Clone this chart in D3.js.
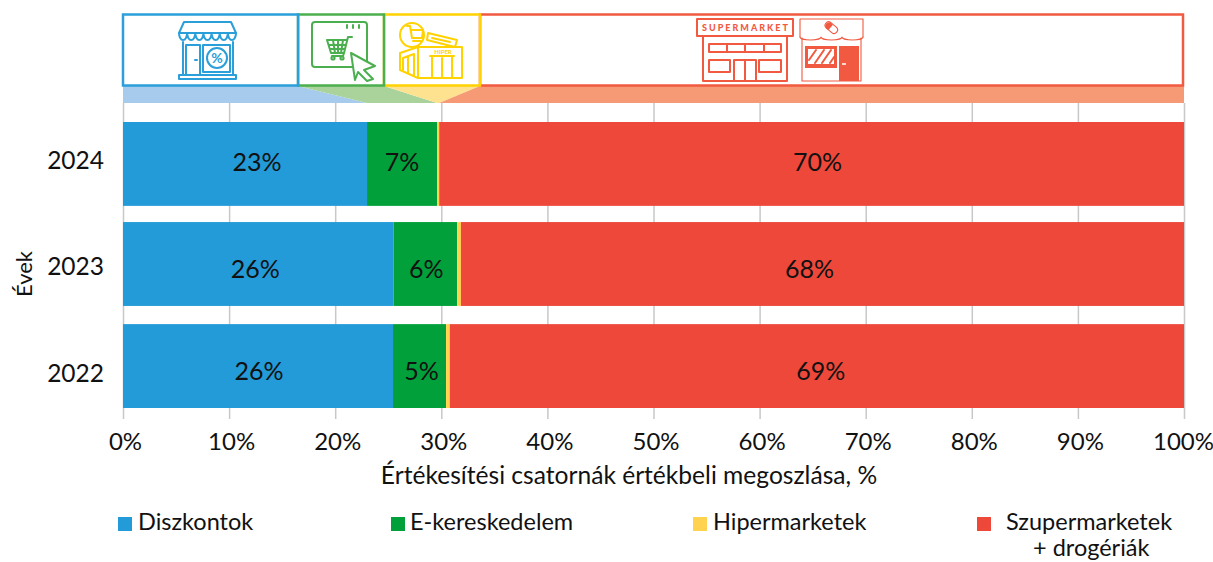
<!DOCTYPE html>
<html>
<head>
<meta charset="utf-8">
<script src="https://cdn.jsdelivr.net/npm/d3@7"></script>
<style>
  html, body { margin: 0; padding: 0; background: #fff; }
  svg { display: block; }
  text { font-family: Lato, "Open Sans", sans-serif; fill: #111; }
</style>
</head>
<body>
<svg id="chart" width="1213" height="562"></svg>
<script>
const years = ["2024", "2023", "2022"];
const channels = ["Diszkontok", "E-kereskedelem", "Hipermarketek", "Szupermarketek"];
const diszkontok = [23.0, 25.5, 25.45];
const ekereskedelem = [6.6, 6.0, 5.0];
const hipermarketek = [0.2, 0.35, 0.35];
const szupermarketek = [70.2, 68.15, 69.2];
const shownLabels = [
  ["23%", "26%", "26%"],
  ["7%", "6%", "5%"],
  [null, null, null],
  ["70%", "68%", "69%"]
];
const xTicks = [0, 10, 20, 30, 40, 50, 60, 70, 80, 90, 100];
const headerEdges = [0, 16.5, 24.6, 33.65, 100];

const colors = ["#239bd8", "#02a03b", "#ffd34f", "#ee483b"];
const boxColors = ["#2a9fd9", "#4caf4f", "#ffd200", "#f15a40"];
const funnelColors = ["#a7cbec", "#a9d39b", "#ffe28f", "#f69a75"];

// px nudges for the labels, the source has them placed by hand
const labelNudge = [[12, -3, 1], [0, 1, 2], [0, 0, 0], [6, -13, 4]];
const labelDrop = [-2, 4, 5];
const yearNudge = [-4, 1, 7];
const barNudge = [0, -1, 0];

const svg = d3.select("#chart");
const x = d3.scaleLinear().domain([0, 100]).range([123, 1184]);
const y = d3.scaleBand().domain(years).range([122, 408]).paddingInner(0.17);

const series = [diszkontok, ekereskedelem, hipermarketek, szupermarketek];
const rows = years.map((year, i) => {
  const row = { year };
  channels.forEach((c, j) => { row[c] = series[j][i]; });
  return row;
});
const stacked = d3.stack().keys(channels)(rows);

// axis + gridlines go under the bars
const xAxis = svg.append("g")
  .attr("transform", "translate(0,419)")
  .call(d3.axisBottom(x).tickValues(xTicks).tickSize(-316).tickPadding(0).tickFormat(d => d + "%"));
xAxis.select(".domain").remove();
xAxis.selectAll("line").attr("stroke", "#c8c8c8").attr("stroke-width", 1.5);
xAxis.selectAll("text")
  .attr("y", 23)
  .attr("dy", "0.35em")
  .attr("dx", d => d == 0 ? 2 : d == 100 ? -1 : 2)
  .style("font-size", "24px")
  .style("fill", "#111");

stacked.forEach((layer, j) => {
  svg.append("g").selectAll("rect").data(layer).enter().append("rect")
    .attr("x", d => x(d[0]))
    .attr("y", (d, i) => y(d.data.year) + barNudge[i])
    .attr("width", d => x(d[1]) - x(d[0]))
    .attr("height", y.bandwidth())
    .attr("fill", colors[j]);
  svg.append("g").selectAll("text").data(layer).enter().append("text")
    .filter((d, i) => shownLabels[j][i] !== null)
    .attr("x", d => (x(d[0]) + x(d[1])) / 2 + labelNudge[j][years.indexOf(d.data.year)])
    .attr("y", d => y(d.data.year) + y.bandwidth() / 2 + labelDrop[years.indexOf(d.data.year)])
    .attr("dy", "0.35em")
    .attr("text-anchor", "middle")
    .style("font-size", "25px")
    .text(d => shownLabels[j][years.indexOf(d.data.year)]);
});

const yAxis = svg.append("g")
  .attr("transform", "translate(108,0)")
  .call(d3.axisLeft(y).tickSize(0).tickPadding(4));
yAxis.select(".domain").remove();
yAxis.selectAll("text")
  .attr("transform", (d, i) => `translate(0,${yearNudge[i]})`)
  .attr("dy", "0.35em")
  .style("font-size", "24.5px")
  .style("fill", "#111");

svg.append("text")
  .attr("transform", "translate(32,274) rotate(-90)")
  .attr("text-anchor", "middle")
  .style("font-size", "22px")
  .text("Évek");
svg.append("text")
  .attr("x", 629).attr("y", 484)
  .attr("text-anchor", "middle")
  .style("font-size", "24.6px")
  .text("Értékesítési csatornák értékbeli megoszlása, %");

// funnel from the header boxes down to the 2024 bar
const bottomEdges = [0, 23.0, 29.6, 29.8, 100];
channels.forEach((c, j) => {
  svg.append("path")
    .attr("fill", funnelColors[j])
    .attr("d", d3.line()([
      [x(headerEdges[j]), 86], [x(headerEdges[j + 1]), 86],
      [x(bottomEdges[j + 1]), 103], [x(bottomEdges[j]), 103]
    ]) + "Z");
});

// header boxes
[3, 2, 1, 0].forEach(j => {
  svg.append("rect")
    .attr("x", x(headerEdges[j]))
    .attr("y", 14.5)
    .attr("width", x(headerEdges[j + 1]) - x(headerEdges[j]) - (j == 3 ? 1 : 0))
    .attr("height", 71)
    .attr("fill", "none")
    .attr("stroke", boxColors[j])
    .attr("stroke-width", 2.5);
});

function icon(color, sw) {
  return svg.append("g").attr("fill", "none").attr("stroke", color).attr("stroke-width", sw || 2)
    .attr("stroke-linejoin", "round").attr("stroke-linecap", "round");
}
function scallops(g, x0, x1, yy, n, depth) {
  const w = (x1 - x0) / n;
  let d = `M${x0},${yy}`;
  for (let i = 0; i < n; i++) d += `a${w / 2},${depth} 0 0 0 ${w},0`;
  g.append("path").attr("d", d);
}

// discount shop
const shop = icon(boxColors[0]);
shop.append("path").attr("d", "M184,22H231L236,33H179Z");
scallops(shop, 179, 236, 33, 7, 7);
shop.append("path").attr("d", "M183,42V75M233,42V75");
shop.append("rect").attr("x", 179).attr("y", 75).attr("width", 57).attr("height", 4);
shop.append("rect").attr("x", 186).attr("y", 45).attr("width", 14).attr("height", 30);
shop.append("rect").attr("x", 203).attr("y", 45).attr("width", 27).attr("height", 27);
shop.append("circle").attr("cx", 217).attr("cy", 58).attr("r", 10);
shop.append("path").attr("d", "M195,60h2");
svg.append("text").attr("x", 217).attr("y", 63).attr("text-anchor", "middle")
  .style("font-size", "14px").style("font-weight", "700").style("fill", boxColors[0]).text("%");

// web shop
const web = icon(boxColors[1]);
web.append("rect").attr("x", 312).attr("y", 22).attr("width", 55).attr("height", 45).attr("rx", 3);
web.append("path").attr("d", "M347,25v3M353,25v3M359,25v3");
web.append("path").attr("d", "M352,37H348L344,53H331L327,40H346M329,45H345M330,49H344M333,40L335,53M338,40V53M343,40L341,53M344,53L343,56H332");
web.append("circle").attr("cx", 333).attr("cy", 58).attr("r", 1.6);
web.append("circle").attr("cx", 342).attr("cy", 58).attr("r", 1.6);
web.append("path").attr("fill", "#fff").attr("d", "M351,53L375,66L364,70L373,79L367,81L358,72L355,80Z");

// hypermarket
const hyper = icon(boxColors[2]);
hyper.append("path").attr("d", "M428,33L457,40L455,47L427,40ZM432,38L450,42");
hyper.append("circle").attr("cx", 412).attr("cy", 35).attr("r", 12).attr("fill", "#fff");
hyper.append("path").attr("d", "M407,26H410L412,38H422L423,30H411M413,41H421");
hyper.append("path").attr("d", "M400,53L418,47V78L400,70ZM418,47H462V78H418ZM403,58L414,54V76M403,58V70M408,56V73");
hyper.append("path").attr("d", "M430,56H454M432,56V78M452,56V78M442,58V78");
svg.append("text").attr("x", 443).attr("y", 54).attr("text-anchor", "middle")
  .style("font-size", "6px").style("font-weight", "700").style("fill", boxColors[2]).text("HIPER");

// supermarket
const sm = icon(boxColors[3]);
sm.append("rect").attr("x", 697).attr("y", 19).attr("width", 96).attr("height", 17);
sm.append("rect").attr("x", 703).attr("y", 36).attr("width", 84).attr("height", 45);
sm.append("rect").attr("x", 709).attr("y", 44).attr("width", 72).attr("height", 8);
sm.append("path").attr("d", "M727,44v8M745,44v8M764,44v8");
sm.append("rect").attr("x", 709).attr("y", 60).attr("width", 21).attr("height", 12);
sm.append("rect").attr("x", 759).attr("y", 60).attr("width", 22).attr("height", 12);
sm.append("path").attr("d", "M734,81V60H756V81M745,60V81");
svg.append("text").attr("x", 746).attr("y", 31).attr("text-anchor", "middle")
  .style("font-size", "9px").style("font-weight", "900").style("letter-spacing", "2px")
  .style("fill", boxColors[3]).text("SUPERMARKET");

// drugstore
const drug = icon(boxColors[3], 1.1);
drug.append("path").attr("d", "M800,19H863V37M800,19V37");
scallops(drug, 800, 863, 37, 3, 3);
drug.append("path").attr("d", "M802,38V81H861V38");
svg.append("rect").attr("x", 805).attr("y", 46).attr("width", 32).attr("height", 22).attr("fill", boxColors[3]);
svg.append("rect").attr("x", 808).attr("y", 49).attr("width", 26).attr("height", 15).attr("fill", "#fff");
icon(boxColors[3], 2).append("path").attr("d", "M809,60L816,50M815,63L824,50M822,63L831,50M830,63L834,57");
svg.append("rect").attr("x", 839).attr("y", 46).attr("width", 20).attr("height", 35).attr("fill", boxColors[3]);
svg.append("path").attr("d", "M842,64h4").attr("stroke", "#fff").attr("stroke-width", 1.5);
svg.append("rect").attr("x", 824).attr("y", 24).attr("width", 14).attr("height", 7).attr("rx", 3.5)
  .attr("transform", "rotate(40 831 28)").attr("fill", "#fff").attr("stroke", boxColors[3]).attr("stroke-width", 1.1);
svg.append("path").attr("d", "M826,24a3.5,3.5 0 0 1 5,-1l2,1.7l-4.5,5.4l-2.5,-1.7a3.5,3.5 0 0 1 0,-4.4Z").attr("fill", boxColors[3]);

// legend
const legendX = [118, 391, 693, 977];
const legendTextX = [138, 410, 713, 1006];
channels.forEach((c, j) => {
  svg.append("rect").attr("x", legendX[j]).attr("y", 517).attr("width", 14).attr("height", 14).attr("fill", colors[j]);
  svg.append("text").attr("x", legendTextX[j]).attr("y", 530).style("font-size", "23.5px").text(c);
});
svg.append("text").attr("x", 1033).attr("y", 556).style("font-size", "23.5px").text("+ drogériák");
</script>
</body>
</html>
